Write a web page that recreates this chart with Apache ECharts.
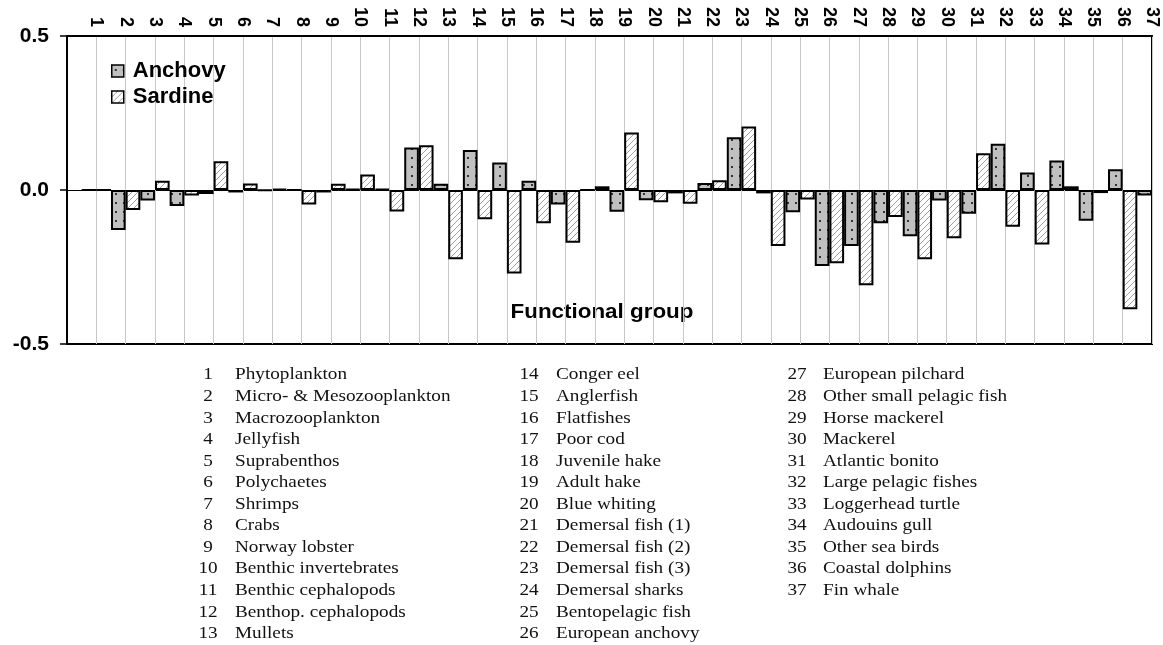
<!DOCTYPE html>
<html>
<head>
<meta charset="utf-8">
<script src="https://cdn.jsdelivr.net/npm/echarts@6/dist/echarts.min.js"></script>
<style>
  html, body { margin: 0; padding: 0; background: #fff; }
  #chart { width: 1163px; height: 645px; }
</style>
</head>
<body>
<div id="chart"></div>
<script>
  // functional groups 1..37
  const groupIds = ['1','2','3','4','5','6','7','8','9','10','11','12','13','14','15','16','17','18','19',
    '20','21','22','23','24','25','26','27','28','29','30','31','32','33','34','35','36','37'];

  const anchovy = [0, -0.13, -0.034, -0.052, -0.013, -0.008, -0.002, 0, -0.008, 0.003,
    0.003, 0.138, 0.02, 0.13, 0.089, 0.03, -0.047, 0, -0.071, -0.033,
    -0.011, 0.023, 0.171, -0.011, -0.072, -0.247, -0.182, -0.108, -0.15, -0.034,
    -0.077, 0.15, 0.057, 0.096, -0.1, 0.067, -0.018];

  // group 37 sardine falls outside the plot in the source, so it is left empty
  const sardine = [0, -0.065, 0.03, -0.018, 0.093, 0.021, 0.004, -0.047, 0.02, 0.05,
    -0.07, 0.145, -0.225, -0.095, -0.271, -0.108, -0.171, 0.012, 0.187, -0.04,
    -0.045, 0.032, 0.206, -0.182, -0.031, -0.238, -0.309, -0.088, -0.225, -0.157,
    0.119, -0.119, -0.177, 0.012, -0.01, -0.387, null];

  const groupNames = ['Phytoplankton', 'Micro- & Mesozooplankton', 'Macrozooplankton', 'Jellyfish',
    'Suprabenthos', 'Polychaetes', 'Shrimps', 'Crabs', 'Norway lobster', 'Benthic invertebrates',
    'Benthic cephalopods', 'Benthop. cephalopods', 'Mullets', 'Conger eel', 'Anglerfish',
    'Flatfishes', 'Poor cod', 'Juvenile hake', 'Adult hake', 'Blue whiting', 'Demersal fish (1)',
    'Demersal fish (2)', 'Demersal fish (3)', 'Demersal sharks', 'Bentopelagic fish',
    'European anchovy', 'European pilchard', 'Other small pelagic fish', 'Horse mackerel',
    'Mackerel', 'Atlantic bonito', 'Large pelagic fishes', 'Loggerhead turtle', 'Audouins gull',
    'Other sea birds', 'Coastal dolphins', 'Fin whale'];

  const yTicks = [-0.5, 0, 0.5];

  // fill patterns
  function dotPattern() {
    let c = document.createElement('canvas');
    c.width = 8; c.height = 9;
    let ctx = c.getContext('2d');
    ctx.fillStyle = '#c0c0c0';
    ctx.fillRect(0, 0, 8, 9);
    ctx.fillStyle = '#333';
    ctx.fillRect(3, 4, 2, 2);
    return { image: c, repeat: 'repeat' };
  }
  function hatchPattern() {
    let c = document.createElement('canvas');
    c.width = 6; c.height = 6;
    let ctx = c.getContext('2d');
    ctx.fillStyle = '#fff';
    ctx.fillRect(0, 0, 6, 6);
    ctx.strokeStyle = '#a0a0a0';
    ctx.lineWidth = 1;
    ctx.beginPath();
    ctx.moveTo(-1, 7); ctx.lineTo(7, -1);
    ctx.moveTo(-1, 1); ctx.lineTo(1, -1);
    ctx.moveTo(5, 7); ctx.lineTo(7, 5);
    ctx.stroke();
    return { image: c, repeat: 'repeat' };
  }

  // position 0 is the empty slot at the left edge of the plot
  const cats = [''].concat(groupIds);

  // the source picture is a bit wide, so the texts are stretched a little
  const stretch = 1.13;
  const serif = '17px "Liberation Serif", "Times New Roman", serif';

  // list of group names under the chart, three columns
  let listText = [];
  const cols = [
    { from: 0, to: 13, numX: 208, nameX: 235 },
    { from: 13, to: 26, numX: 529, nameX: 556 },
    { from: 26, to: 37, numX: 797, nameX: 823 }
  ];
  cols.forEach(function (col) {
    for (let i = col.from; i < col.to; i++) {
      let y = 375 + (i - col.from) * 21.55;
      listText.push({
        type: 'text', x: col.numX, y: y, scaleX: stretch,
        style: { text: groupIds[i], font: serif, fill: '#111', align: 'center', verticalAlign: 'middle' }
      });
      listText.push({
        type: 'text', x: col.nameX, y: y, scaleX: stretch,
        style: { text: groupNames[i], font: serif, fill: '#111', align: 'left', verticalAlign: 'middle' }
      });
    }
  });
  listText.push({
    type: 'text', x: 602, y: 312, scaleX: 1.12,
    style: { text: 'Functional group', font: 'bold 20px "Liberation Sans", Arial, sans-serif',
      fill: '#000', align: 'center', verticalAlign: 'middle' }
  });

  const chart = echarts.init(document.getElementById('chart'), null, { renderer: 'canvas' });
  const boldFont = '"Liberation Sans", Arial, sans-serif';

  chart.setOption({
    animation: false,
    grid: {
      left: 67, right: 11, top: 36, bottom: 301,
      show: true, borderColor: '#000', borderWidth: 2, backgroundColor: 'transparent'
    },
    legend: {
      orient: 'vertical', left: 106, top: 55,
      itemWidth: 12, itemHeight: 12, itemGap: 4,
      textStyle: { fontFamily: boldFont, fontWeight: 'bold', fontSize: 22, color: '#000',
        padding: [0, 0, 0, 4], lineHeight: 21 },
      data: [
        { name: 'Anchovy', icon: 'rect', itemStyle: { borderColor: '#000', borderWidth: 1.5 } },
        { name: 'Sardine', icon: 'rect', itemStyle: { borderColor: '#000', borderWidth: 1.5 } }
      ]
    },
    xAxis: {
      type: 'category', data: cats, boundaryGap: false, position: 'top',
      axisLine: { show: true, onZero: false, lineStyle: { color: '#000', width: 2 } },
      axisTick: { show: false },
      axisLabel: { interval: 0, rotate: 90, margin: 9, fontFamily: boldFont,
        fontWeight: 'bold', fontSize: 18, color: '#000' },
      splitLine: { show: true, interval: 0, lineStyle: { color: '#c8c8c8', width: 1 } }
    },
    yAxis: {
      type: 'value', min: yTicks[0], max: yTicks[2], interval: 0.5,
      axisLine: { show: true, lineStyle: { color: '#000', width: 2 } },
      axisTick: { show: true, length: 7, lineStyle: { color: '#000', width: 1.5 } },
      axisLabel: { margin: 18, fontFamily: boldFont, fontWeight: 'bold', fontSize: 21, color: '#000',
        formatter: function (v) { return v.toFixed(1); } },
      // the line at 0.0; the ones at +-0.5 sit under the frame
      splitLine: { show: true, lineStyle: { color: '#000', width: 1 } }
    },
    series: [
      {
        name: 'Anchovy', type: 'bar',
        data: [null].concat(anchovy),
        barGap: '0%', barCategoryGap: '0%', clip: true, z: 3,
        itemStyle: { color: dotPattern(), borderColor: '#000', borderWidth: 2 }
      },
      {
        name: 'Sardine', type: 'bar',
        data: [null].concat(sardine),
        barGap: '0%', barCategoryGap: '0%', clip: true, z: 3,
        itemStyle: { color: hatchPattern(), borderColor: '#000', borderWidth: 2 }
      }
    ],
    graphic: listText
  });
</script>
</body>
</html>
